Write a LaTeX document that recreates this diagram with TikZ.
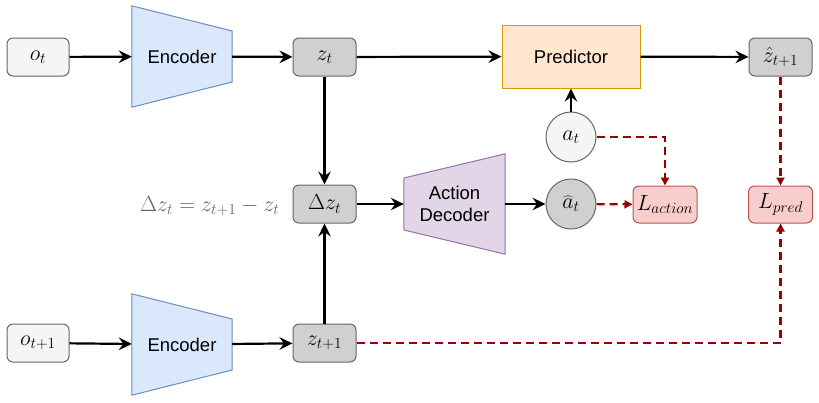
\documentclass[tikz,border=0pt]{standalone}
\usepackage{fix-cm}
\usepackage{fontspec}
\setsansfont{Liberation Sans}
\usetikzlibrary{positioning,arrows.meta,backgrounds}

\definecolor{grayfill}{HTML}{F5F5F5}
\definecolor{darkfill}{HTML}{D0D0D0}
\definecolor{graystroke}{HTML}{666666}
\definecolor{encfill}{HTML}{DAE8FC}
\definecolor{encstroke}{HTML}{6C8EBF}
\definecolor{predfill}{HTML}{FFE6CC}
\definecolor{predstroke}{HTML}{D79B00}
\definecolor{decfill}{HTML}{E1D5E7}
\definecolor{decstroke}{HTML}{9673A6}
\definecolor{lossfill}{HTML}{F8CECC}
\definecolor{lossstroke}{HTML}{B85450}
\definecolor{lossline}{HTML}{990000}

\tikzset{
  mathsize/.style={font=\fontsize{22}{26}\selectfont},
  textsize/.style={font=\sffamily\fontsize{18.5}{22}\selectfont},
  obsbox/.style={draw=graystroke, fill=grayfill, rounded corners=6pt, minimum width=62pt, minimum height=38pt, line width=1pt, mathsize, inner sep=0pt},
  latbox/.style={obsbox, fill=darkfill, minimum width=63pt},
  lossbox/.style={obsbox, draw=lossstroke, fill=lossfill, minimum width=64pt, minimum height=37pt},
  actcirc/.style={circle, draw=graystroke, fill=grayfill, minimum size=50pt, inner sep=0pt, line width=1pt, mathsize},
  trapbox/.style={minimum width=100pt, minimum height=101pt, inner sep=0pt, textsize, align=center},
  flow/.style={-{Stealth[length=13pt,width=12.5pt,inset=4.5pt]}, line width=2.2pt},
  lossflow/.style={-{Triangle[length=8pt,width=8pt]}, lossline, line width=2.2pt, dash pattern=on 8pt off 5pt},
}

\begin{document}
\begin{tikzpicture}[x=1pt,y=-1pt]
\useasboundingbox (0,0) rectangle (819,402);
% top row
\node[obsbox] (ot) at (38,57) {$o_t$};
\node[trapbox] (enc1) at (182,56.5) {Encoder};
\node[latbox] (zt) at (324.5,57) {$z_t$};
\node[draw=predstroke, fill=predfill, line width=1pt, minimum width=138pt, minimum height=63pt, textsize] (pred) at (571,56.5) {Predictor};
\node[latbox] (zhat) at (780.5,57) {$\hat{z}_{t+1}$};
\node[actcirc] (at) at (571,137) {$a_t$};
% middle row
\node[latbox] (dz) at (324.5,204) {$\Delta z_t$};
\node[left=13pt of dz, yshift=-2pt, inner sep=0pt, mathsize, text=graystroke] (dzlabel) {$\Delta z_t = z_{t+1} - z_t$};
\node[trapbox, minimum width=101pt, minimum height=100pt] (dec) at (454.5,204) {Action\\Decoder};
\node[actcirc, fill=darkfill] (ahat) at (571,204) {$\widehat{a}_t$};
\node[lossbox] (lact) at (665,204.5) {$L_{action}$};
\node[lossbox] (lpred) at (780.5,204.5) {$L_{pred}$};
% bottom row
\node[obsbox] (ot1) at (38,343) {$o_{t+1}$};
\node[trapbox] (enc2) at (182,344.5) {Encoder};
\node[latbox] (zt1) at (324.5,343) {$z_{t+1}$};

\begin{scope}[on background layer]
\draw[encstroke, fill=encfill, line width=1pt] (enc1.north west) -- ([yshift=25.5pt]enc1.east) -- ([yshift=-25.5pt]enc1.east) -- (enc1.south west) -- cycle;
\draw[encstroke, fill=encfill, line width=1pt] (enc2.north west) -- ([yshift=25.5pt]enc2.east) -- ([yshift=-25.5pt]enc2.east) -- (enc2.south west) -- cycle;
\draw[decstroke, fill=decfill, line width=1pt] (dec.north east) -- (dec.south east) -- ([yshift=-26pt]dec.west) -- ([yshift=26pt]dec.west) -- cycle;
\end{scope}

% solid connectors
\draw[flow] (ot) -- (enc1);
\draw[flow] (enc1) -- (zt);
\draw[flow] (zt) -- (pred);
\draw[flow] (pred) -- (zhat);
\draw[flow] (at) -- (pred);
\draw[flow] (zt) -- (dz);
\draw[flow] (zt1) -- (dz);
\draw[flow] (dz) -- (dec);
\draw[flow] (dec) -- (ahat);
\draw[flow] (ot1) -- (enc2);
\draw[flow] (enc2) -- (zt1);
% loss connectors
\draw[lossflow] (at.east) -| (lact.north);
\draw[lossflow] (ahat) -- (lact);
\draw[lossflow] (zhat) -- (lpred);
\draw[lossflow] (zt1.east) -| (lpred.south);
\end{tikzpicture}
\end{document}
